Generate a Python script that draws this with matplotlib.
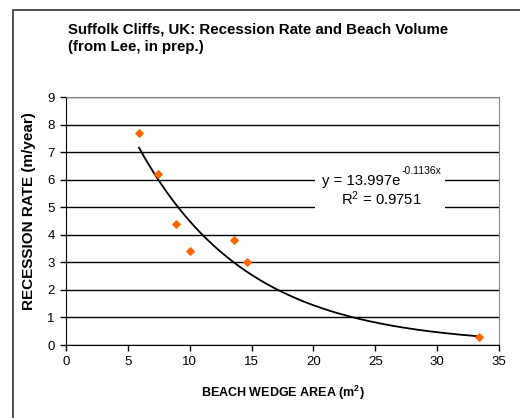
import matplotlib.pyplot as plt
import numpy as np
from matplotlib.patches import Rectangle

# beach wedge area (m^2) and recession rate (m/year)
beach_area = [5.9, 7.4, 8.9, 10.0, 13.6, 14.6, 33.4]
recession = [7.7, 6.2, 4.4, 3.4, 3.8, 3.0, 0.3]

# exponential trendline shown on the chart
fit_a = 13.997
fit_b = -0.1136
r_squared = 0.9751

plt.rcParams['font.family'] = ['Liberation Sans', 'DejaVu Sans']
plt.rcParams['mathtext.fontset'] = 'custom'
plt.rcParams['mathtext.rm'] = 'Liberation Sans'
plt.rcParams['mathtext.it'] = 'Liberation Sans:italic'
plt.rcParams['mathtext.bf'] = 'Liberation Sans:bold'

fig = plt.figure(figsize=(5.2, 4.18), dpi=100)

# chart area border (runs off the right and bottom of the image)
fig.patches.append(Rectangle((13 / 520, -0.05), 1.2, 1 - 10 / 418 + 0.05,
                             transform=fig.transFigure, fill=False,
                             edgecolor='#333333', linewidth=1.2))

fig.text(68 / 520, 1 - 22 / 418, 'Suffolk Cliffs, UK: Recession Rate and Beach Volume',
         fontsize=10.8, fontweight='bold', va='top')
fig.text(68 / 520, 1 - 40 / 418, '(from Lee, in prep.)',
         fontsize=10.8, fontweight='bold', va='top')

ax = fig.add_axes([66 / 520, 73 / 418, 433 / 520, 248 / 418])

xs = np.linspace(min(beach_area), max(beach_area), 200)
ax.plot(xs, fit_a * np.exp(fit_b * xs), color='black', linewidth=1.3, zorder=3)
ax.scatter(beach_area, recession, marker='D', s=14, color='#FF6600', zorder=4)

ax.set_xlim(0, 35)
ax.set_ylim(0, 9)
ax.set_xticks(range(0, 36, 5))
ax.set_yticks(range(0, 10))
ax.tick_params(direction='out', length=4, width=1, labelsize=9.5, pad=4)
ax.yaxis.grid(True, color='black', linewidth=1)
ax.set_axisbelow(True)

for side in ['top', 'right']:
    ax.spines[side].set_color('#888888')
for side in ['left', 'bottom']:
    ax.spines[side].set_color('black')

ax.set_xlabel('BEACH WEDGE AREA (m$^\\mathbf{2}$)', fontsize=9, fontweight='bold', labelpad=11)
ax.set_ylabel('RECESSION RATE (m/year)', fontsize=11, fontweight='bold', labelpad=8)
ax.yaxis.label.set_y(0.54)

# trendline label with white background
ax.add_patch(Rectangle((20.1, 4.82), 10.5, 1.8, facecolor='white', edgecolor='none', zorder=5))
ax.text(27.0, 5.8, 'y = %.3fe' % fit_a, fontsize=10.7, ha='right', va='baseline', zorder=6)
ax.annotate('%.4fx' % fit_b, xy=(27.0, 5.8), xytext=(1, 8), textcoords='offset points',
            fontsize=7.5, ha='left', va='baseline', zorder=6)
ax.text(25.46, 5.07, 'R$^\\mathrm{2}$ = %.4f' % r_squared, fontsize=10.7, ha='center',
        va='baseline', zorder=6)

fig.savefig('out.png', dpi=100)
